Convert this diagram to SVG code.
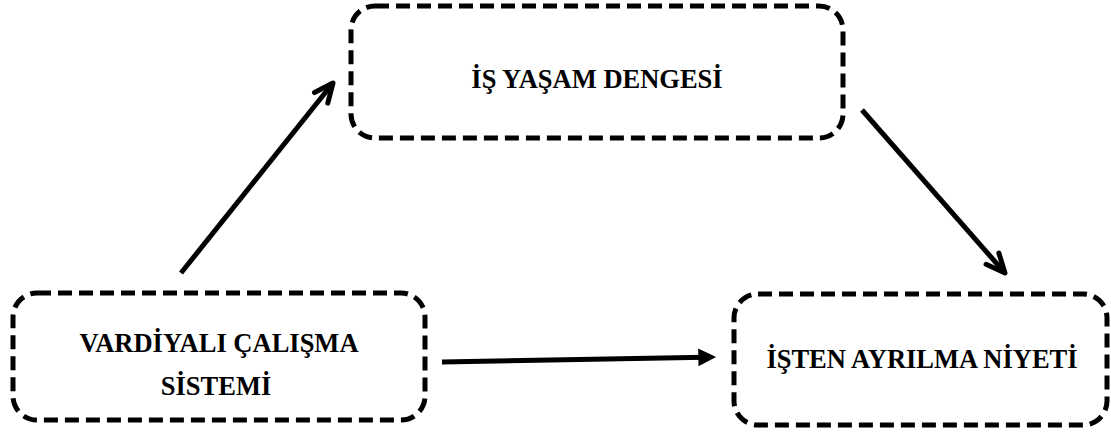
<svg xmlns="http://www.w3.org/2000/svg" width="1111" height="435" viewBox="0 0 1111 435">
  <style>
    .box { fill: #ffffff; stroke: #000000; stroke-width: 5; stroke-dasharray: 14 7; }
    .label { font-family: "Liberation Serif", "Times New Roman", serif; font-weight: bold; font-size: 26.5px; fill: #000000; text-anchor: middle; }
    .link { fill: none; stroke: #000000; stroke-width: 5; }
  </style>
  <defs>
    <marker id="open-head" markerUnits="userSpaceOnUse" markerWidth="30" markerHeight="30" viewBox="-24 -14 30 28" refX="0" refY="0" orient="auto">
      <path d="M -19 -8.5 L 0 0 L -19 8.5" fill="none" stroke="#000000" stroke-width="5" stroke-linecap="round" stroke-linejoin="round"/>
    </marker>
    <marker id="solid-head" markerUnits="userSpaceOnUse" markerWidth="20" markerHeight="20" viewBox="0 -9 18 18" refX="6" refY="0" orient="auto">
      <path d="M 0 -8 L 16 0 L 0 8 Z" fill="#000000"/>
    </marker>
  </defs>

  <rect width="1111" height="435" fill="#ffffff"/>

  <g id="connectors">
    <line class="link" x1="181" y1="273" x2="333" y2="83" marker-end="url(#open-head)"/>
    <line class="link" x1="862" y1="110" x2="1005" y2="273" marker-end="url(#open-head)"/>
    <line class="link" x1="442" y1="362" x2="705" y2="357.2" stroke-width="5.5" marker-end="url(#solid-head)"/>
  </g>

  <g id="node-work-life-balance">
    <rect class="box" x="351" y="6" width="492" height="132" rx="24" ry="24"/>
    <text class="label" x="597" y="88">İŞ YAŞAM DENGESİ</text>
  </g>

  <g id="node-shift-work">
    <rect class="box" x="13" y="293" width="412" height="127" rx="24" ry="24"/>
    <text class="label" x="219" y="352">VARDİYALI ÇALIŞMA</text>
    <text class="label" x="216" y="395">SİSTEMİ</text>
  </g>

  <g id="node-turnover-intention">
    <rect class="box" x="734" y="294" width="373" height="131" rx="24" ry="24"/>
    <text class="label" x="922" y="368">İŞTEN AYRILMA NİYETİ</text>
  </g>
</svg>
